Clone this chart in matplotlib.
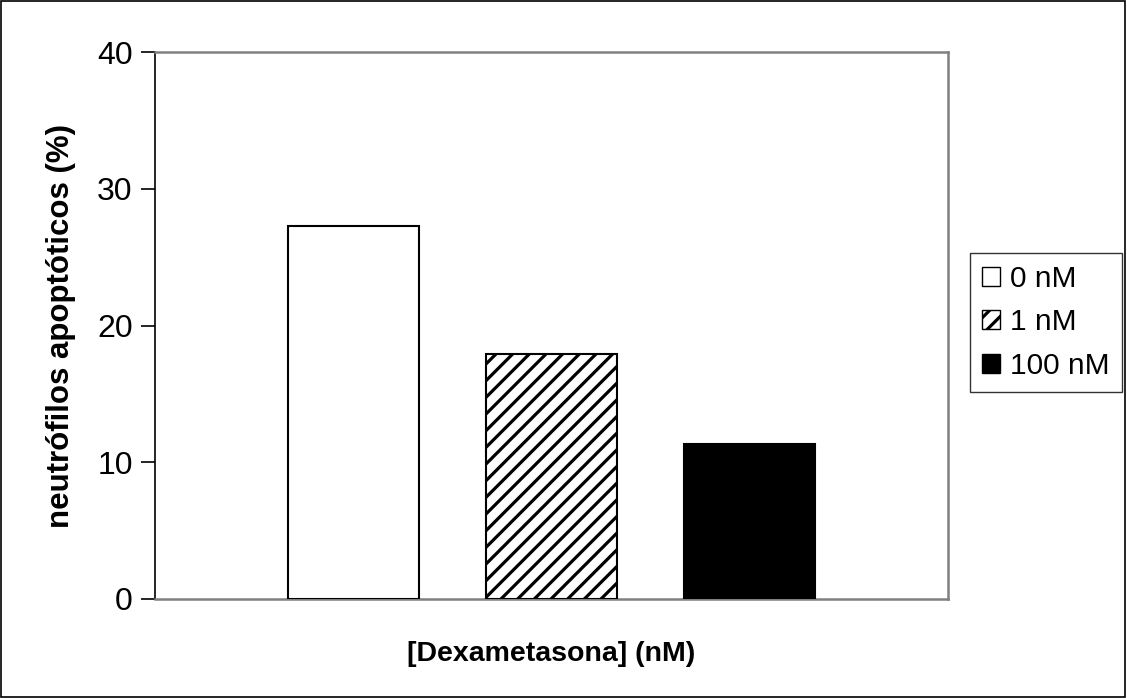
import matplotlib.pyplot as plt
from matplotlib.patches import Patch, Rectangle

# data
doses = ['0 nM', '1 nM', '100 nM']
apoptosis = [27.25, 17.95, 11.35]
fills = ['white', 'white', 'black']
hatches = [None, '//', None]

plt.rcParams['font.family'] = ['Liberation Sans', 'DejaVu Sans']
plt.rcParams['hatch.linewidth'] = 2.3
plt.rcParams['hatch.color'] = 'black'

fig = plt.figure(figsize=(11.27, 6.98), dpi=100)
ax = fig.add_axes([155/1127, 99/698, 793/1127, 547/698])

for i in range(len(doses)):
    ax.bar(i, apoptosis[i], width=0.66, color=fills[i], edgecolor='black',
           linewidth=1.5, hatch=hatches[i], zorder=3)

ax.set_xlim(-1.0, 3.0)
ax.set_ylim(0, 40)
ax.set_yticks([0, 10, 20, 30, 40])
ax.set_xticks([])
ax.tick_params(axis='y', labelsize=23, length=10, width=1.2, pad=6, direction='out')

for s in ['top', 'right', 'bottom']:
    ax.spines[s].set_color('#808080')
    ax.spines[s].set_linewidth(1.8)
ax.spines['left'].set_color('black')
ax.spines['left'].set_linewidth(1.2)

ax.set_ylabel('neutrófilos apoptóticos (%)', fontsize=22.5, fontweight='bold', labelpad=15)
ax.set_xlabel('[Dexametasona] (nM)', fontsize=20.5, fontweight='bold', labelpad=30)

handles = [Patch(facecolor=fills[i], edgecolor='black', hatch=hatches[i], linewidth=1)
           for i in range(len(doses))]
leg = fig.legend(handles, doses, loc='upper left', bbox_to_anchor=(970/1127, 1 - 253/698),
                 fontsize=21.5, handlelength=0.6, handleheight=0.6, handletextpad=0.35,
                 labelspacing=0.52, borderpad=0.4, fancybox=False, frameon=True,
                 borderaxespad=0)
leg.get_frame().set_edgecolor('black')
leg.get_frame().set_linewidth(1.0)

# outer border of the chart area
fig.patches.append(Rectangle((0.0005, 0.001), 0.998, 0.997, transform=fig.transFigure,
                             fill=False, edgecolor='black', linewidth=1.2))

fig.savefig('out.png', dpi=100)
